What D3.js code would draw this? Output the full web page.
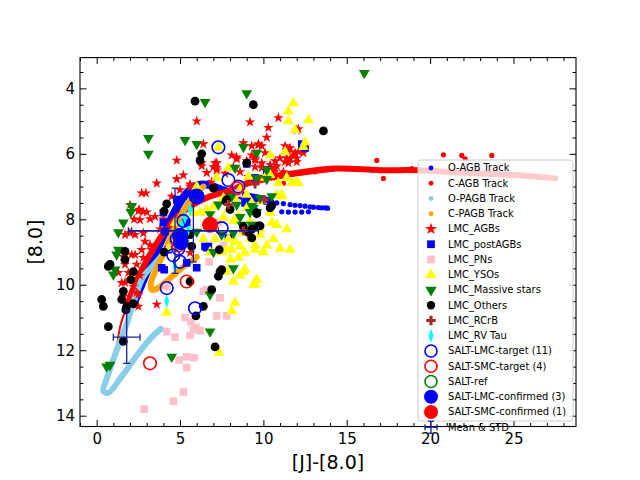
<!DOCTYPE html>
<html>
<head>
<meta charset="utf-8">
<script src="https://cdn.jsdelivr.net/npm/d3@7"></script>
<style>
body{margin:0;background:#fff;}
text{font-family:"DejaVu Sans",sans-serif;}
</style>
</head>
<body>
<div id="canvas"></div>
<script>
// evolutionary tracks ([J]-[8.0], [8.0])
var oAgbTrack = [[2.2,10.6],[2.6,10.1],[3.1,9.5],[3.6,8.95],[4.1,8.4],[4.6,7.85],[5.1,7.4],[5.6,7.1],[6.1,6.95],[6.7,6.95],[7.5,7.1],[8.5,7.25],[9.5,7.35],[10.3,7.45]];
var oAgbDots = [[10.5,7.47],[10.8,7.5],[11.2,7.52],[11.6,7.55],[11.9,7.57],[12.2,7.58],[12.5,7.6],[12.8,7.62],[13.0,7.63],[13.3,7.64],[13.5,7.65],[13.7,7.65],[13.85,7.66],
  [11.1,7.77],[11.5,7.78],[11.9,7.78],[12.3,7.78],[12.7,7.77]];
var cAgbTail = [[1.25,11.75],[1.45,11.2],[1.75,10.75]];
var cAgbTrack = [[1.75,10.75],[2.2,10.1],[2.8,9.45],[3.4,8.9],[4.1,8.35],[4.9,7.9],[5.8,7.55],[6.8,7.3],[7.8,7.15],[8.8,6.95],[9.8,6.75],[11.5,6.62],[14.2,6.45],[17.0,6.5],[19.3,6.5],[22.0,6.58],[25.0,6.65],[27.5,6.75]];
var cAgbLoop = [[9.0,6.95],[11.0,6.72],[14.2,6.5]];
var cAgbDots = [[11.2,6.9],[13.1,6.55],[14.6,6.45],[16.6,6.5],[16.8,6.2],[17.2,6.75],[18.9,6.45],[20.8,6.03],[21.9,6.05],[22.1,6.15],[23.7,6.05],[26.0,6.7],[26.5,6.72],[27.0,6.73]];
var oPagbTrack = [[4.1,9.0],[3.4,9.4],[2.8,9.75],[2.3,10.4],[1.8,11.2],[1.2,12.0],[0.65,12.8],[0.4,13.25],[0.7,13.3],[1.5,12.8],[2.5,12.1],[3.3,11.6],[3.85,11.35]];
var cPagbTrack = [[6.4,7.0],[5.8,7.3],[5.2,7.75],[4.6,8.35],[4.1,8.95],[3.6,9.5],[3.25,9.95],[3.3,10.15],[3.7,10.1],[4.4,9.8],[5.2,9.45],[6.0,9.15]];

// LMC samples
var lmcAGBs = [[6.0,5.0],[9.2,5.03],[4.8,6.2],[4.8,6.77],[3.6,6.9],[5.6,6.93],[2.7,7.2],[2.95,7.2],[2.0,7.56],[2.5,7.75],[3.0,7.78],[2.6,8.02],[3.2,7.99],[3.5,7.92],
  [6.4,5.7],[6.3,6.28],[6.6,6.58],[7.2,6.28],[7.2,6.43],[8.1,6.04],[8.4,6.16],[8.8,5.67],[9.3,5.76],[9.7,5.73],[9.0,6.22],[9.5,6.13],[9.9,6.43],[5.2,6.65],
  [2.55,7.7],[2.8,7.77],[2.25,8.0],[1.7,8.47],[2.0,8.42],[2.3,8.47],[2.9,8.68],[3.2,8.78],[2.7,8.93],[3.3,8.93],[1.6,9.14],[2.1,9.08],[2.8,9.17],[1.7,9.38],
  [2.4,9.38],[1.9,9.63],[2.6,9.72],[1.7,9.93],[2.2,10.05],[2.5,10.3],[1.6,10.36],[5.6,9.02],[1.3,9.63],[2.0,9.84],[2.4,10.24],[2.5,10.66],[3.6,10.6],[1.5,9.94],
  [2.8,8.42],[2.3,9.08],[10.3,5.2],[10.9,4.9],[10.2,5.5],[8.4,6.1],[8.2,6.4],[7.1,6.28],[7.0,6.4],[6.3,6.37],[7.2,6.5],[9.3,6.04],[9.5,6.19],[9.9,6.28],
  [10.7,6.22],[11.0,6.13],[10.8,6.37],[10.4,6.43],[11.3,5.76],[11.5,5.94],[11.8,6.04],[12.1,5.94],[12.0,5.27],[11.3,6.25],[11.6,6.16],[12.4,5.97],[10.8,6.7],
  [10.6,6.55],[5.6,7.0],[12.0,6.25],[12.1,5.24],[11.6,5.82],[9.7,5.7],[9.9,5.76],[10.1,5.97],[11.4,6.13],[11.9,5.97],[12.0,6.13],[9.5,6.4],[10.4,6.34],
  [10.7,6.43],[11.5,6.28],[11.2,6.55],[4.0,8.0],[3.8,8.3],[4.5,7.3],[5.0,7.1],[6.9,6.85],[7.7,6.6],[8.6,6.55],[9.1,6.7]];
var lmcPostAGBs = [[12.5,5.82],[9.0,6.31],[9.5,6.73],[4.8,7.41],[4.0,8.1],[5.3,8.1],[8.9,7.5],[4.05,9.54],[5.4,9.33],[6.5,8.83],[6.7,8.83],[7.9,8.57],[4.1,8.37],
  [6.0,9.48],[10.2,6.5],[4.9,7.4],[4.0,7.8],[5.4,8.1],[4.3,8.93],[6.6,8.87],[3.9,9.48],[12.3,5.7]];
var lmcPNs = [[4.2,10.05],[5.3,11.0],[5.65,11.13],[5.95,11.3],[6.2,11.4],[5.6,11.55],[4.2,11.43],[4.7,11.6],[4.95,12.3],[5.4,12.2],[5.85,12.23],[5.4,12.53],
  [5.2,13.28],[4.6,13.56],[2.85,13.8],[6.75,9.3],[6.4,10.2],[6.6,10.15],[7.4,10.4],[7.2,10.95],[7.8,10.95],[7.6,8.8],[5.8,11.37],[8.5,7.2],[7.3,8.1]];
var lmcYSOs = [[11.8,4.45],[11.5,4.7],[11.5,5.0],[12.7,4.97],[11.9,5.27],[12.4,5.79],[11.3,5.94],[10.4,6.04],[10.3,6.62],[11.7,6.89],[12.1,6.89],[10.9,6.89],
  [11.1,7.25],[10.5,8.1],[10.8,8.17],[9.8,8.47],[9.2,8.07],[7.3,5.8],[7.9,6.43],[7.2,6.73],[9.1,6.7],[10.4,6.64],[10.1,6.73],[11.4,6.73],[12.0,6.86],[8.7,7.0],
  [7.6,7.35],[8.3,7.35],[9.0,7.25],[9.3,7.5],[9.9,7.44],[10.8,7.25],[11.1,7.3],[10.4,7.8],[7.0,7.62],[6.2,7.8],[7.9,7.7],[9.0,7.65],[9.8,8.3],[8.3,8.68],
  [8.6,8.83],[8.9,9.02],[7.8,8.93],[8.1,8.93],[9.5,8.93],[10.0,8.99],[8.0,9.23],[8.5,9.17],[8.9,9.54],[7.8,9.6],[8.6,9.72],[8.2,9.9],[9.5,9.99],[9.6,9.84],
  [8.3,10.55],[8.1,10.8],[11.6,8.93],[7.35,12.07],[4.2,10.85],[8.8,9.6],[9.4,10.0],[10.0,9.0],[9.5,8.78],[4.7,8.1],[5.3,8.6],[6.4,8.6],[6.8,9.0],[7.1,8.6],
  [6.9,8.2],[7.6,7.95],[8.2,8.05],[8.5,7.9],[5.8,7.8],[6.6,7.7],[4.3,8.9],[7.5,9.0],[7.9,8.6],[8.8,8.4],[9.2,8.6],[10.2,8.8],[10.6,8.6],[11.0,8.9],[11.4,8.3],
  [6.0,7.0],[12.5,5.65]];
var lmcMassive = [[16.05,3.53],[6.5,4.42],[9.0,4.15],[3.1,5.52],[3.1,6.0],[5.3,5.58],[6.0,5.7],[8.8,5.79],[9.6,5.97],[2.1,7.6],[2.05,7.78],[1.6,8.1],[1.3,8.4],
  [8.4,7.56],[9.3,7.6],[8.3,6.43],[10.2,6.49],[9.6,6.73],[8.1,7.3],[9.2,7.78],[9.6,7.78],[9.8,7.35],[10.2,6.77],[10.5,7.3],[9.4,7.65],[1.3,8.93],[1.1,9.54],
  [1.0,9.69],[6.0,8.38],[1.2,9.08],[0.6,12.5],[0.8,12.45],[4.5,12.2],[6.8,11.43],[7.0,9.0],[8.2,9.5],[6.8,10.3],[8.2,8.42],[7.5,8.47],[8.7,8.17],[9.3,8.17],
  [8.6,7.93],[7.3,7.55],[6.8,7.85]];
var lmcOthers = [[5.9,4.39],[9.4,4.5],[13.6,5.3],[6.3,6.0],[6.2,6.2],[9.0,6.28],[7.0,7.05],[4.2,7.53],[4.05,7.75],[7.75,7.45],[8.0,7.7],[9.6,7.83],[10.5,7.58],
  [10.4,7.65],[8.8,8.22],[9.1,8.4],[9.3,8.57],[9.7,8.2],[9.6,7.8],[1.7,8.98],[0.7,9.44],[0.8,9.38],[1.7,9.23],[2.2,9.6],[2.05,9.84],[0.3,10.45],[0.4,10.66],
  [1.6,10.2],[1.5,10.45],[1.8,10.66],[2.2,10.58],[1.75,10.77],[0.7,11.28],[1.6,11.73],[4.05,9.0],[5.6,8.47],[5.6,9.9],[6.4,10.66],[5.95,10.95],[6.9,10.15],
  [7.3,9.74],[7.4,9.6],[7.35,8.93],[7.1,11.9],[5.7,8.83],[7.5,9.54],[7.8,7.4],[9.3,8.3],[9.8,8.2]];
var lmcRCrB = [[9.5,6.92],[10.05,7.4],[8.8,8.35],[7.9,7.55]];
var lmcRVTau = [[5.6,7.7],[5.1,8.17],[5.5,8.3],[4.7,9.45],[4.2,10.5],[4.9,8.7],[5.3,7.95]];

// SALT targets
var saltLmcTarget = [[7.3,5.8],[7.9,6.8],[8.5,7.0],[7.5,8.27],[4.2,10.1],[5.9,10.72],[5.0,9.3],[4.9,8.9],[4.8,8.6],[5.2,8.05],[4.6,9.1]];
var saltSmcTarget = [[4.9,8.8],[5.4,9.9],[3.2,12.4],[8.4,7.05]];
var saltRef = [];
var saltLmcConfirmed = [[5.0,8.5],[5.05,8.7],[6.0,7.3]];
var saltSmcConfirmed = [[6.8,8.17]];

// Mean & STD
var meanX = [4.7, 5.8, 1.8];
var meanY = [8.35, 8.35, 11.6];
var stdX = [2.6, 3.9, 0.8];
var stdY = [1.3, 0.95, 0.8];

var xTicks = [0, 5, 10, 15, 20, 25];
var yTicks = [4, 6, 8, 10, 12, 14];
var legendLabels = ['O-AGB Track','C-AGB Track','O-PAGB Track','C-PAGB Track','LMC_AGBs','LMC_postAGBs','LMC_PNs','LMC_YSOs',
  'LMC_Massive stars','LMC_Others','LMC_RCrB','LMC_RV Tau','SALT-LMC-target (11)','SALT-SMC-target (4)','SALT-ref',
  'SALT-LMC-confirmed (3)','SALT-SMC-confirmed (1)','Mean & STD'];

var W = 640, H = 480;
var m = {t:57.6, r:64, b:53.5, l:80};

var svg = d3.select('#canvas').append('svg').attr('width', W).attr('height', H);

var x = d3.scaleLinear().domain([-1.0, 28.75]).range([m.l, W - m.r]);
var y = d3.scaleLinear().domain([3.06, 14.33]).range([m.t, H - m.b]);

svg.append('clipPath').attr('id','clip').append('rect')
  .attr('x', m.l).attr('y', m.t).attr('width', W - m.l - m.r).attr('height', H - m.t - m.b);

var plot = svg.append('g').attr('clip-path','url(#clip)');

var line = d3.line().x(function(d){return x(d[0]);}).y(function(d){return y(d[1]);}).curve(d3.curveCatmullRom);

function track(data, color, width){
  plot.append('path').datum(data).attr('d', line)
    .style('fill','none').style('stroke', color).style('stroke-width', width)
    .style('stroke-linecap','round').style('stroke-linejoin','round');
}
function dots(data, color, r){
  plot.append('g').selectAll('circle').data(data).enter().append('circle')
    .attr('cx', function(d){return x(d[0]);}).attr('cy', function(d){return y(d[1]);})
    .attr('r', r).style('fill', color);
}
function scatter(data, type, size, color, extra){
  plot.append('g').selectAll('path').data(data).enter().append('path')
    .attr('d', d3.symbol().type(type).size(size))
    .attr('transform', function(d){return 'translate(' + x(d[0]) + ',' + y(d[1]) + ')' + (extra || '');})
    .style('fill', color);
}
function rings(data, color, r, fill){
  plot.append('g').selectAll('circle').data(data).enter().append('circle')
    .attr('cx', function(d){return x(d[0]);}).attr('cy', function(d){return y(d[1]);})
    .attr('r', r).style('fill', fill ? color : 'none')
    .style('stroke', color).style('stroke-width', fill ? 0 : 1.6);
}

// tracks
track(oAgbTrack, '#0000ff', 8);
dots(oAgbDots, '#0000ff', 2.6);
track(cAgbTail, '#ff0000', 2);
track(cAgbTrack, '#ff0000', 6);
track(cAgbLoop, '#ff0000', 3);
dots(cAgbDots, '#ff0000', 2.6);
track(oPagbTrack, '#87ceeb', 6);
track(cPagbTrack, '#ffa500', 6);

// samples
scatter(lmcAGBs, d3.symbolStar, 34, '#ff0000');
scatter(lmcPostAGBs, d3.symbolSquare, 58, '#0000ff');
scatter(lmcPNs, d3.symbolSquare, 58, '#ffc0cb');
scatter(lmcYSOs, d3.symbolTriangle, 50, '#ffff00');
scatter(lmcMassive, d3.symbolTriangle, 50, '#008000', ' rotate(180)');
dots(lmcOthers, '#000000', 4.4);
scatter(lmcRCrB, d3.symbolCross, 45, '#a52a2a');
scatter(lmcRVTau, d3.symbolDiamond, 55, '#00ffff', ' scale(0.6,1)');
rings(saltLmcTarget, '#0000ff', 6.3, false);
rings(saltSmcTarget, '#ff0000', 6.3, false);
rings(saltRef, '#008000', 6.3, false);
rings(saltLmcConfirmed, '#0000ff', 8, true);
rings(saltSmcConfirmed, '#ff0000', 8, true);

// mean & std error bars
var ebColor = '#1c1c96';
var eb = plot.append('g').selectAll('g').data(meanX).enter().append('g')
  .style('stroke', ebColor).style('stroke-width', 1.3);
eb.append('line')
  .attr('x1', function(d,i){return x(d - stdX[i]);}).attr('x2', function(d,i){return x(d + stdX[i]);})
  .attr('y1', function(d,i){return y(meanY[i]);}).attr('y2', function(d,i){return y(meanY[i]);});
eb.append('line')
  .attr('x1', function(d){return x(d);}).attr('x2', function(d){return x(d);})
  .attr('y1', function(d,i){return y(meanY[i] - stdY[i]);}).attr('y2', function(d,i){return y(meanY[i] + stdY[i]);});
[-1, 1].forEach(function(s){
  eb.append('line')
    .attr('x1', function(d,i){return x(d + s*stdX[i]);}).attr('x2', function(d,i){return x(d + s*stdX[i]);})
    .attr('y1', function(d,i){return y(meanY[i]) - 3.5;}).attr('y2', function(d,i){return y(meanY[i]) + 3.5;});
  eb.append('line')
    .attr('x1', function(d){return x(d) - 3.5;}).attr('x2', function(d){return x(d) + 3.5;})
    .attr('y1', function(d,i){return y(meanY[i] + s*stdY[i]);}).attr('y2', function(d,i){return y(meanY[i] + s*stdY[i]);});
});

// axes: inward ticks on all four sides
var xMinor = d3.range(-1, 29, 1).filter(function(v){return v % 5 !== 0;});
var yMinor = d3.range(3.5, 14.4, 0.5).filter(function(v){return v % 2 !== 0;});

function addAxis(axis, tx, ty){
  var g = svg.append('g').attr('transform', 'translate(' + tx + ',' + ty + ')').call(axis);
  g.select('.domain').remove();
  g.selectAll('line').style('stroke','#000').style('stroke-width',1);
  g.attr('font-family','DejaVu Sans').attr('font-size', 15);
  g.selectAll('text').style('fill','#000');
  return g;
}
var yb = H - m.b, xr = W - m.r;
addAxis(d3.axisBottom(x).tickValues(xTicks).tickSize(-6.5).tickPadding(7), 0, yb);
addAxis(d3.axisBottom(x).tickValues(xMinor).tickSize(-3.5).tickFormat(''), 0, yb);
addAxis(d3.axisTop(x).tickValues(xTicks).tickSize(-6.5).tickFormat(''), 0, m.t);
addAxis(d3.axisTop(x).tickValues(xMinor).tickSize(-3.5).tickFormat(''), 0, m.t);
addAxis(d3.axisLeft(y).tickValues(yTicks).tickSize(-6.5).tickPadding(5), m.l, 0);
addAxis(d3.axisLeft(y).tickValues(yMinor).tickSize(-3.5).tickFormat(''), m.l, 0);
addAxis(d3.axisRight(y).tickValues(yTicks).tickSize(-6.5).tickFormat(''), xr, 0);
addAxis(d3.axisRight(y).tickValues(yMinor).tickSize(-3.5).tickFormat(''), xr, 0);

svg.append('rect').attr('x', m.l).attr('y', m.t).attr('width', xr - m.l).attr('height', yb - m.t)
  .style('fill','none').style('stroke','#000').style('stroke-width',1.1);

svg.append('text').attr('x', (m.l + xr)/2).attr('y', 469).attr('text-anchor','middle')
  .style('font-size','19px').text('[J]-[8.0]');
svg.append('text').attr('transform','translate(35,' + ((m.t + yb)/2) + ') rotate(-90)')
  .attr('text-anchor','middle').attr('dy','0.35em').style('font-size','19px').text('[8.0]');

// legend
var lg = svg.append('g');
lg.append('rect').attr('x',418).attr('y',160).attr('width',155).attr('height',261).attr('rx',3)
  .style('fill','#fff').style('fill-opacity',0.8).style('stroke','#cccccc').style('stroke-width',1);

var rowY = function(i){return 168 + i*15.25;};
var mx = 431;
var sym = function(i, type, size, color, extra){
  lg.append('path').attr('d', d3.symbol().type(type).size(size))
    .attr('transform','translate(' + mx + ',' + rowY(i) + ')' + (extra || '')).style('fill', color);
};
var circ = function(i, r, color, fill){
  lg.append('circle').attr('cx', mx).attr('cy', rowY(i)).attr('r', r)
    .style('fill', fill ? color : 'none').style('stroke', color).style('stroke-width', fill ? 0 : 1.6);
};
circ(0, 2.4, '#0000ff', true);
circ(1, 2.4, '#ff0000', true);
circ(2, 2.4, '#87ceeb', true);
circ(3, 2.4, '#ffa500', true);
sym(4, d3.symbolStar, 45, '#ff0000');
sym(5, d3.symbolSquare, 60, '#0000ff');
sym(6, d3.symbolSquare, 60, '#ffc0cb');
sym(7, d3.symbolTriangle, 55, '#ffff00');
sym(8, d3.symbolTriangle, 55, '#008000', ' rotate(180)');
circ(9, 4.2, '#000000', true);
sym(10, d3.symbolCross, 50, '#a52a2a');
sym(11, d3.symbolDiamond, 60, '#00ffff', ' scale(0.6,1)');
circ(12, 6, '#0000ff', false);
circ(13, 6, '#ff0000', false);
circ(14, 6, '#008000', false);
circ(15, 7, '#0000ff', true);
circ(16, 7, '#ff0000', true);
var ly = rowY(17);
var lgEb = lg.append('g').style('stroke', ebColor).style('stroke-width', 1.3);
lgEb.append('line').attr('x1', mx-6).attr('x2', mx+6).attr('y1', ly).attr('y2', ly);
lgEb.append('line').attr('x1', mx).attr('x2', mx).attr('y1', ly-6).attr('y2', ly+6);
lgEb.append('line').attr('x1', mx-6).attr('x2', mx-6).attr('y1', ly-3).attr('y2', ly+3);
lgEb.append('line').attr('x1', mx+6).attr('x2', mx+6).attr('y1', ly-3).attr('y2', ly+3);
lgEb.append('line').attr('x1', mx-3).attr('x2', mx+3).attr('y1', ly-6).attr('y2', ly-6);
lgEb.append('line').attr('x1', mx-3).attr('x2', mx+3).attr('y1', ly+6).attr('y2', ly+6);

lg.selectAll('text.lab').data(legendLabels).enter().append('text').attr('class','lab')
  .attr('x', 448).attr('y', function(d,i){return rowY(i);}).attr('dy','0.35em')
  .style('font-size','9.9px').style('fill','#000').text(function(d){return d;});
</script>
</body>
</html>
